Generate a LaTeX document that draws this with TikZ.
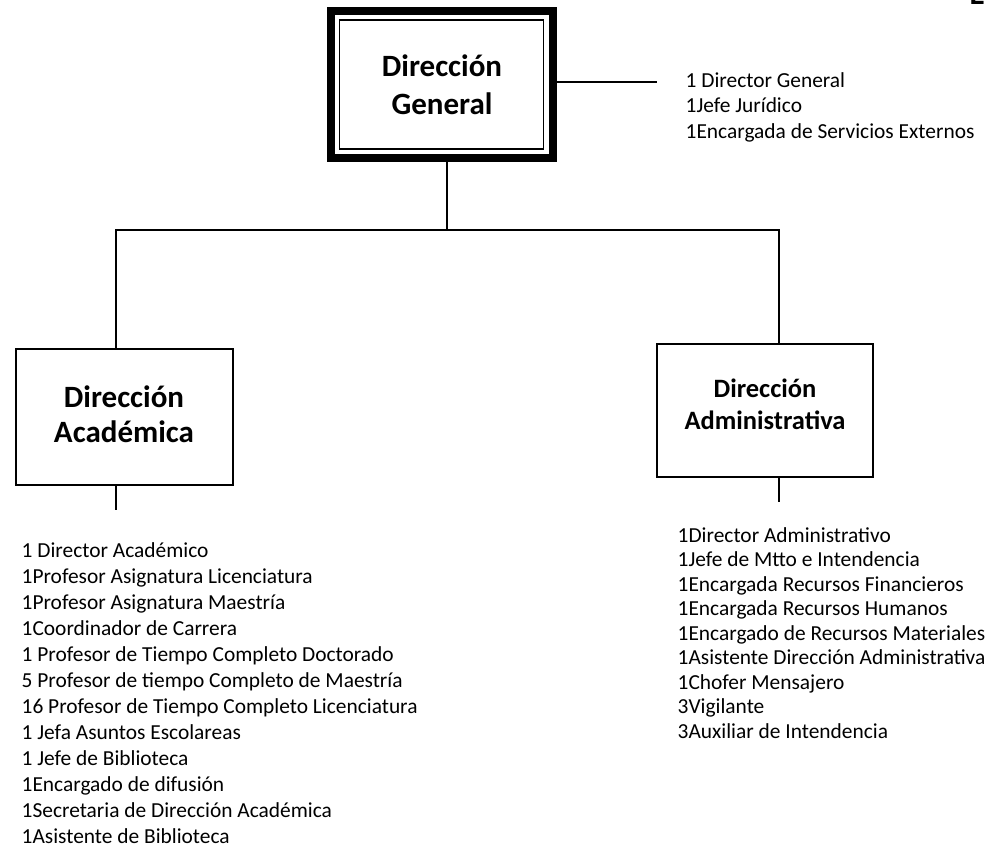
\documentclass[tikz,border=0pt]{standalone}
\usepackage{fontspec}
\setmainfont{Carlito}
\usetikzlibrary{calc}
\begin{document}
\begin{tikzpicture}[x=1pt,y=-1pt,
  orgbox/.style={draw, line width=1.8pt, inner sep=0pt, outer sep=0pt},
  conn/.style={line width=1.8pt},
  ttl/.style={anchor=base, inner sep=0pt, font=\bfseries\fontsize{31}{37}\selectfont},
  ttlsmall/.style={anchor=base, inner sep=0pt, font=\bfseries\fontsize{26.5}{32}\selectfont},
  item/.style={anchor=base west, inner sep=0pt, font=\fontsize{21.4}{25}\selectfont}]
\useasboundingbox (0,0) rectangle (989,848);
% top box
\node[orgbox, line width=8pt, minimum width=222pt, minimum height=147pt] (dg) at (442,85) {};
\node[orgbox, line width=1.5pt, minimum width=204pt, minimum height=129pt] (dgin) at (441.5,84.5) {};
\node[ttl] (dgt1) at (442,77) {Dirección};
\node[ttl] (dgt2) at (442,115) {General};
% left box
\node[orgbox, minimum width=217pt, minimum height=136pt] (da) at (124.5,417) {};
\node[ttl] (dat1) at (124,407) {Dirección};
\node[ttl] (dat2) at (124,442) {Académica};
% right box
\node[orgbox, minimum width=216pt, minimum height=133pt] (dad) at (765,410.5) {};
\node[ttlsmall] (dadt1) at (765,397) {Dirección};
\node[ttlsmall] (dadt2) at (765,429) {Administrativa};
% partial heading at top right
\node[anchor=base west, inner sep=0pt, font=\bfseries\fontsize{31}{37}\selectfont] (hd) at (969.5,5) {E};
% connectors
\coordinate (j) at (447,230);
\coordinate (jl) at (116,230);
\coordinate (jr) at (779,230);
\coordinate (tl) at (657,82);
\coordinate (ea) at (116,510);
\coordinate (ead) at (779,502);
\draw[conn] (dg.south -| j) -- (j);
\draw[conn] (jl |- da.north) -- (jl) -- (jr) -- (jr |- dad.north);
\draw[conn] (tl -| dg.east) -- (tl);
\draw[conn] (ea |- da.south) -- (ea);
\draw[conn] (ead |- dad.south) -- (ead);
% top list
\node[item] (g1) at (685.5,87.5) {1 Director General};
\node[item] (g2) at (685.5,113) {1Jefe Jurídico};
\node[item] (g3) at (685.5,138.5) {1Encargada de Servicios Externos};
% left list
\foreach \t [count=\i] in {1 Director Académico,
  1Profesor Asignatura Licenciatura,
  1Profesor Asignatura Maestría,
  1Coordinador de Carrera,
  1 Profesor de Tiempo Completo Doctorado,
  5 Profesor de tiempo Completo de Maestría,
  16 Profesor de Tiempo Completo Licenciatura,
  1 Jefa Asuntos Escolareas,
  1 Jefe de Biblioteca,
  1Encargado de difusión,
  1Secretaria de Dirección Académica,
  1Asistente de Biblioteca}
  \node[item] (a\i) at (21.5,{557+26*(\i-1)}) {\t};
% right list
\foreach \t [count=\i] in {1Director Administrativo,
  1Jefe de Mtto e Intendencia,
  1Encargada Recursos Financieros,
  1Encargada Recursos Humanos,
  1Encargado de Recursos Materiales,
  1Asistente Dirección Administrativa,
  1Chofer Mensajero,
  3Vigilante,
  3Auxiliar de Intendencia}
  \node[item] (b\i) at (677.5,{542+24.5*(\i-1)}) {\t};
\end{tikzpicture}
\end{document}
